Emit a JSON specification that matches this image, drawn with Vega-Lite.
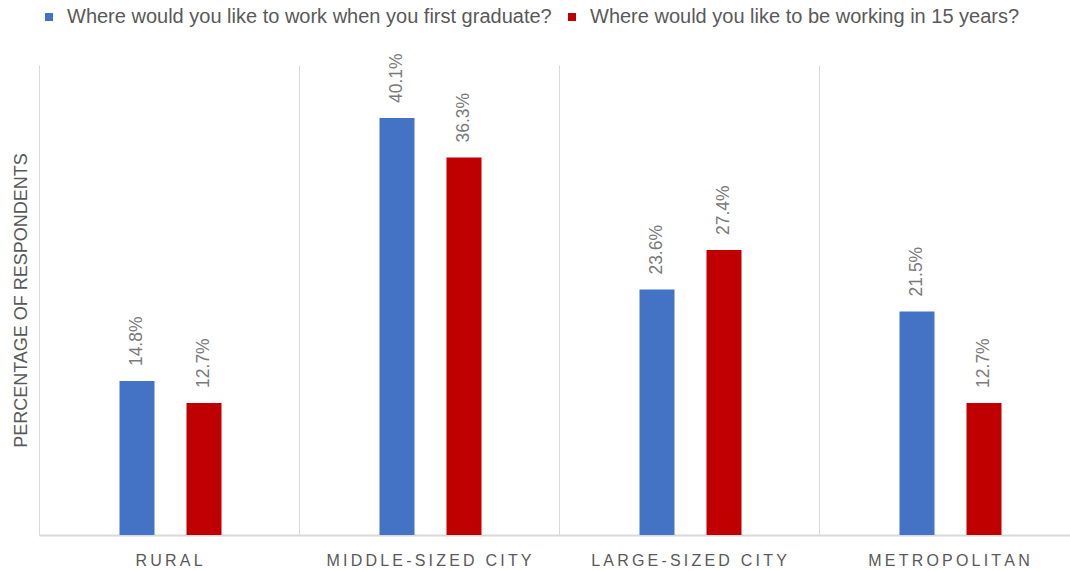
{
  "$schema": "https://vega.github.io/schema/vega-lite/v6.json",
  "autosize": {"type": "none"},
  "width": 1031,
  "height": 470,
  "padding": {"left": 39, "top": 65, "right": 0, "bottom": 36},
  "data": {
    "values": [
      {"location": "RURAL", "question": "Where would you like to work when you first graduate?", "share": 0.148},
      {"location": "RURAL", "question": "Where would you like to be working in 15 years?", "share": 0.127},
      {"location": "MIDDLE-SIZED CITY", "question": "Where would you like to work when you first graduate?", "share": 0.401},
      {"location": "MIDDLE-SIZED CITY", "question": "Where would you like to be working in 15 years?", "share": 0.363},
      {"location": "LARGE-SIZED CITY", "question": "Where would you like to work when you first graduate?", "share": 0.236},
      {"location": "LARGE-SIZED CITY", "question": "Where would you like to be working in 15 years?", "share": 0.274},
      {"location": "METROPOLITAN", "question": "Where would you like to work when you first graduate?", "share": 0.215},
      {"location": "METROPOLITAN", "question": "Where would you like to be working in 15 years?", "share": 0.127}
    ]
  },
  "encoding": {
    "x": {
      "field": "location",
      "type": "nominal",
      "sort": ["RURAL", "MIDDLE-SIZED CITY", "LARGE-SIZED CITY", "METROPOLITAN"],
      "scale": {"range": [0, 1040], "paddingInner": 0, "paddingOuter": 0},
      "axis": {
        "title": null,
        "labelAngle": 0,
        "ticks": false,
        "grid": true,
        "bandPosition": 0,
        "gridColor": "#d9d9d9",
        "gridWidth": 1,
        "domainColor": "#d9d9d9",
        "domainWidth": 2,
        "labelPadding": 17,
        "labelLimit": 400,
        "labelFont": "Liberation Sans",
        "labelFontSize": 16,
        "labelColor": "#595959",
        "labelExpr": "join(split(datum.label, ''), '\u2009')"
      }
    },
    "xOffset": {
      "field": "question",
      "type": "nominal",
      "sort": ["Where would you like to work when you first graduate?", "Where would you like to be working in 15 years?"],
      "scale": {"range": [64.5, 198.5], "paddingInner": 0, "paddingOuter": 0}
    },
    "y": {
      "field": "share",
      "type": "quantitative",
      "scale": {"domain": [0, 0.452]},
      "axis": {
        "title": "PERCENTAGE OF RESPONDENTS",
        "labels": false,
        "ticks": false,
        "domain": false,
        "grid": false,
        "titleFont": "Liberation Sans",
        "titleFontSize": 18,
        "titleFontWeight": "normal",
        "titleColor": "#595959",
        "titlePadding": 9
      }
    }
  },
  "layer": [
    {
      "mark": {"type": "bar", "width": 35},
      "encoding": {
        "color": {
          "field": "question",
          "type": "nominal",
          "scale": {
            "domain": ["Where would you like to work when you first graduate?", "Where would you like to be working in 15 years?"],
            "range": ["#4472c4", "#c00000"]
          },
          "legend": {
            "title": null,
            "orient": "top",
            "direction": "horizontal",
            "offset": 38,
            "symbolType": "square",
            "symbolSize": 64,
            "symbolStrokeWidth": 0,
            "labelFont": "Liberation Sans",
            "labelFontSize": 20,
            "labelColor": "#595959",
            "labelLimit": 800,
            "labelOffset": 8,
            "columnPadding": 10
          }
        }
      }
    },
    {
      "mark": {
        "type": "text",
        "angle": 270,
        "align": "left",
        "baseline": "middle",
        "dx": 15,
        "font": "Liberation Sans",
        "fontSize": 17.5,
        "color": "#7a7a7a"
      },
      "encoding": {
        "text": {"field": "share", "type": "quantitative", "format": ".1%"}
      }
    }
  ],
  "config": {"view": {"stroke": null}}
}
